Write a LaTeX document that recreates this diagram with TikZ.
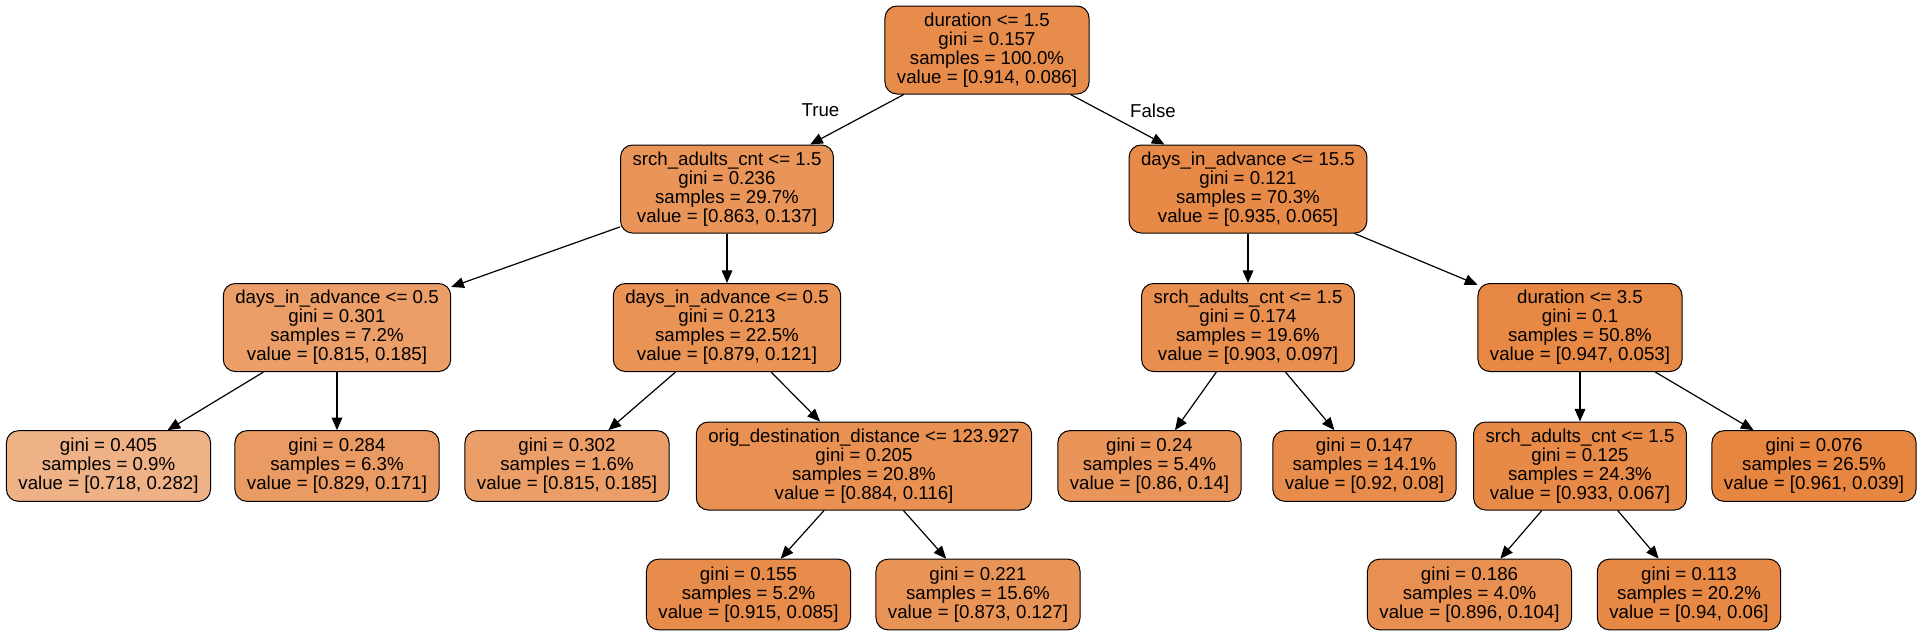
\documentclass[tikz,border=0pt]{standalone}
\usepackage{fontspec}
\setmainfont{Liberation Sans}
\usetikzlibrary{arrows.meta}
\definecolor{tor}{RGB}{229,129,57}
\begin{document}
\begin{tikzpicture}[x=0.75pt,y=-0.75pt,
  tn/.style={draw=black, line width=0.75pt, rounded corners=9pt, align=center,
    font=\fontsize{14}{14.3}\selectfont, inner xsep=9pt, inner ysep=0pt},
  intn/.style={tn, minimum height=66pt},
  leaf/.style={tn, minimum height=53pt},
  edge/.style={-{Triangle[length=9.5pt,width=8pt]}, line width=0.9pt},
  lbl/.style={font=\fontsize{14}{14}\selectfont, inner sep=0pt}
]
\useasboundingbox (0,0) rectangle (1923,636);
\fill[white] (0,0) rectangle (1923,636);

\node[intn, fill=tor!91] (r) at (987,50) {duration <= 1.5\\gini = 0.157\\samples = 100.0\%\\value = [0.914, 0.086]};

\node[intn, fill=tor!84] (a) at (727,189) {srch\_adults\_cnt <= 1.5\\gini = 0.236\\samples = 29.7\%\\value = [0.863, 0.137]};
\node[intn, fill=tor!93] (b) at (1248,189) {days\_in\_advance <= 15.5\\gini = 0.121\\samples = 70.3\%\\value = [0.935, 0.065]};

\node[intn, fill=tor!77] (c) at (337,327.5) {days\_in\_advance <= 0.5\\gini = 0.301\\samples = 7.2\%\\value = [0.815, 0.185]};
\node[intn, fill=tor!86] (d) at (727,327.5) {days\_in\_advance <= 0.5\\gini = 0.213\\samples = 22.5\%\\value = [0.879, 0.121]};
\node[intn, fill=tor!89] (e) at (1248,327.5) {srch\_adults\_cnt <= 1.5\\gini = 0.174\\samples = 19.6\%\\value = [0.903, 0.097]};
\node[intn, fill=tor!94] (f) at (1580,327.5) {duration <= 3.5\\gini = 0.1\\samples = 50.8\%\\value = [0.947, 0.053]};

\node[leaf, fill=tor!61] (l1) at (108.5,466) {gini = 0.405\\samples = 0.9\%\\value = [0.718, 0.282]};
\node[leaf, fill=tor!79] (l2) at (337,466) {gini = 0.284\\samples = 6.3\%\\value = [0.829, 0.171]};
\node[leaf, fill=tor!77] (l3) at (567,466) {gini = 0.302\\samples = 1.6\%\\value = [0.815, 0.185]};
\node[intn, fill=tor!87] (g) at (864,466) {orig\_destination\_distance <= 123.927\\gini = 0.205\\samples = 20.8\%\\value = [0.884, 0.116]};
\node[leaf, fill=tor!84] (l5) at (1149.5,466) {gini = 0.24\\samples = 5.4\%\\value = [0.86, 0.14]};
\node[leaf, fill=tor!91] (l6) at (1364.5,466) {gini = 0.147\\samples = 14.1\%\\value = [0.92, 0.08]};
\node[intn, fill=tor!93] (h) at (1580,466) {srch\_adults\_cnt <= 1.5\\gini = 0.125\\samples = 24.3\%\\value = [0.933, 0.067]};
\node[leaf, fill=tor!96] (l8) at (1814,466) {gini = 0.076\\samples = 26.5\%\\value = [0.961, 0.039]};

\node[leaf, fill=tor!91] (l9) at (748.5,594.5) {gini = 0.155\\samples = 5.2\%\\value = [0.915, 0.085]};
\node[leaf, fill=tor!85] (l10) at (978,594.5) {gini = 0.221\\samples = 15.6\%\\value = [0.873, 0.127]};
\node[leaf, fill=tor!88] (l11) at (1469.5,594.5) {gini = 0.186\\samples = 4.0\%\\value = [0.896, 0.104]};
\node[leaf, fill=tor!94] (l12) at (1689,594.5) {gini = 0.113\\samples = 20.2\%\\value = [0.94, 0.06]};

\draw[edge] (r) -- (a);
\draw[edge] (r) -- (b);
\draw[edge] (a) -- (c);
\draw[edge] (a) -- (d);
\draw[edge] (b) -- (e);
\draw[edge] (b) -- (f);
\draw[edge] (c) -- (l1);
\draw[edge] (c) -- (l2);
\draw[edge] (d) -- (l3);
\draw[edge] (d) -- (g);
\draw[edge] (e) -- (l5);
\draw[edge] (e) -- (l6);
\draw[edge] (f) -- (h);
\draw[edge] (f) -- (l8);
\draw[edge] (g) -- (l9);
\draw[edge] (g) -- (l10);
\draw[edge] (h) -- (l11);
\draw[edge] (h) -- (l12);

\node[lbl] (tlab) at (820.5,110.5) {True};
\node[lbl] (flab) at (1153,110.5) {False};
\end{tikzpicture}
\end{document}
